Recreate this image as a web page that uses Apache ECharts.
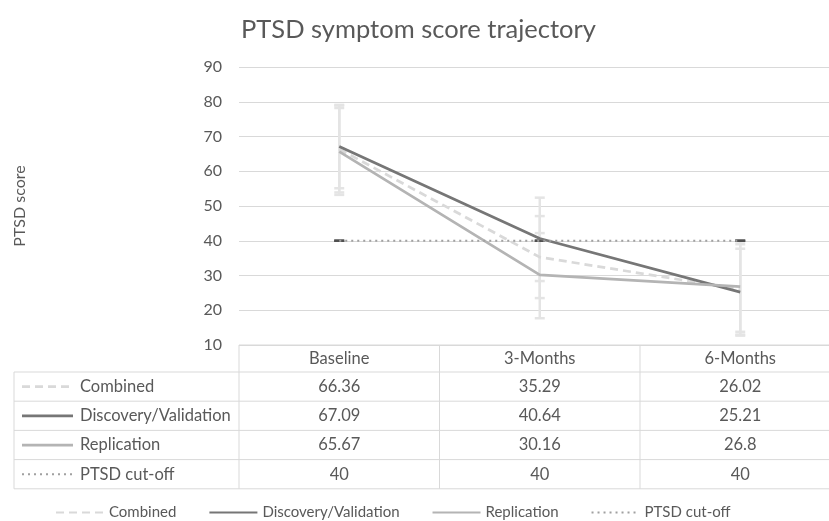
<!DOCTYPE html>
<html><head><meta charset="utf-8">
<script src="https://cdn.jsdelivr.net/npm/echarts@6/dist/echarts.min.js"></script>
<style>html,body{margin:0;padding:0;background:#fff}#c{width:829px;height:521px}</style>
</head><body><div id="c"></div>
<script>
// ---- data ----
const categories = ['Baseline', '3-Months', '6-Months'];
const seriesNames = ['Combined', 'Discovery/Validation', 'Replication', 'PTSD cut-off'];
const combined = [66.36, 35.29, 26.02];
const discovery = [67.09, 40.64, 25.21];
const replication = [65.67, 30.16, 26.8];
const cutoff = [40, 40, 40];
const combinedLow = [53.9, 23.5, 13.0];
const combinedHigh = [78.9, 47.1, 39.0];
const discoveryLow = [55.1, 28.4, 12.7];
const discoveryHigh = [79.1, 52.4, 37.7];
const replicationLow = [53.2, 17.7, 13.8];
const replicationHigh = [78.2, 42.2, 39.8];
const yMin = 10, yMax = 90, yStep = 10;

// ---- layout / styles ----
const FONT = 'Lato';
const TXT = '#595959';
const GRID = '#d9d9d9';
const PLOT_LEFT = 239, BAND = 200.5, W = 829;
const xMaxView = (W - PLOT_LEFT) / BAND - 0.5;   // plot area runs past the right edge
const styles = [
  { color: '#d9d9d9', width: 2.75, type: [8, 5] },
  { color: '#767676', width: 2.75, type: 'solid' },
  { color: '#b4b4b4', width: 2.75, type: 'solid' },
  { color: '#a0a0a0', width: 2, type: [2, 4] }
];
const values = [combined, discovery, replication, cutoff];
const lows = [combinedLow, discoveryLow, replicationLow];
const highs = [combinedHigh, discoveryHigh, replicationHigh];

const chart = echarts.init(document.getElementById('c'));

function errRender(color, capHalf, drawBar) {
  return function (params, api) {
    const x = api.value(0);
    const lo = api.coord([x, api.value(1)]);
    const hi = api.coord([x, api.value(2)]);
    const st = { stroke: color, lineWidth: 2.5 };
    const ch = [];
    if (drawBar) ch.push({ type: 'line', shape: { x1: lo[0], y1: lo[1], x2: hi[0], y2: hi[1] }, style: st });
    ch.push({ type: 'line', shape: { x1: hi[0] - capHalf, y1: hi[1], x2: hi[0] + capHalf, y2: hi[1] }, style: st });
    ch.push({ type: 'line', shape: { x1: lo[0] - capHalf, y1: lo[1], x2: lo[0] + capHalf, y2: lo[1] }, style: st });
    return { type: 'group', children: ch };
  };
}

const series = [];
lows.forEach((lo, k) => {
  series.push({
    type: 'custom', name: 'err' + k, z: 1, silent: true,
    renderItem: errRender('#e4e4e4', 5, true),
    data: categories.map((c, i) => [i, lo[i], highs[k][i]])
  });
});
series.push({
  type: 'custom', name: 'cutcap', z: 1, silent: true,
  renderItem: errRender('#505050', 5, false),
  data: categories.map((c, i) => [i, cutoff[i], cutoff[i]])
});
seriesNames.forEach((n, k) => {
  series.push({
    type: 'line', name: n, data: categories.map((c, i) => [i, values[k][i]]), symbol: 'none', z: 3,
    lineStyle: styles[k], itemStyle: { color: styles[k].color }
  });
});

chart.setOption({
  animation: false,
  title: {
    text: 'PTSD symptom score trajectory', left: 241, top: 17, padding: 0,
    textStyle: { fontFamily: FONT, fontSize: 25.5, fontWeight: 'normal', color: TXT }
  },
  legend: {
    data: seriesNames, top: 505, left: 55, itemWidth: 48, itemHeight: 14, itemGap: 32,
    padding: 0,
    itemStyle: { opacity: 0 },
    textStyle: { fontFamily: FONT, fontSize: 15, color: TXT }
  },
  grid: { left: PLOT_LEFT, top: 67, right: 0, height: 278 },
  xAxis: {
    type: 'value', min: -0.5, max: xMaxView,
    axisLine: { show: false }, axisTick: { show: false }, axisLabel: { show: false }, splitLine: { show: false }
  },
  yAxis: {
    type: 'value', min: yMin, max: yMax, interval: yStep,
    name: 'PTSD score', nameLocation: 'middle', nameGap: 211, nameRotate: 90,
    nameTextStyle: { fontFamily: FONT, fontSize: 16, color: TXT },
    axisLine: { show: false }, axisTick: { show: false },
    axisLabel: { fontFamily: FONT, fontSize: 16, color: TXT, margin: 17 },
    splitLine: { lineStyle: { color: GRID, width: 1 } }
  },
  series: series
});

// ---- data table under the plot ----
const centers = categories.map((c, i) => chart.convertToPixel({ xAxisIndex: 0 }, i));
const band = centers[1] - centers[0];
const tableTop = chart.convertToPixel({ yAxisIndex: 0 }, yMin);
const headH = 27, rowH = 29.2;
const tLeft = 14, c0Right = centers[0] - band / 2, tRight = centers[2] + band / 2;
const g = [];
const ls = { stroke: GRID, lineWidth: 1 };
function hline(x1, x2, y) { g.push({ type: 'line', shape: { x1: x1, y1: y, x2: x2, y2: y }, style: ls, silent: true }); }
function vline(x, y1, y2) { g.push({ type: 'line', shape: { x1: x, y1: y1, x2: x, y2: y2 }, style: ls, silent: true }); }
function txt(x, y, s, align) {
  g.push({ type: 'text', x: x, y: y, silent: true,
    style: { text: s, fill: TXT, font: '16.5px "' + FONT + '"', align: align || 'center', verticalAlign: 'middle' } });
}
const bodyTop = tableTop + headH;
const tBottom = bodyTop + rowH * 4;
hline(c0Right, tRight, tableTop);
for (let r = 0; r <= 4; r++) hline(tLeft, tRight, bodyTop + r * rowH);
vline(tLeft, bodyTop, tBottom);
vline(c0Right, tableTop, tBottom);
categories.forEach((c, i) => {
  vline(centers[i] + band / 2, tableTop, tBottom);
  txt(centers[i], tableTop + headH / 2, c);
});
seriesNames.forEach((n, k) => {
  const yc = bodyTop + rowH * k + rowH / 2;
  const st = styles[k];
  g.push({ type: 'line', silent: true, shape: { x1: 22, y1: yc, x2: 73, y2: yc },
    style: { stroke: st.color, lineWidth: st.width, lineDash: st.type === 'solid' ? null : st.type } });
  txt(80, yc, n, 'left');
  categories.forEach((c, i) => txt(centers[i], yc, String(values[k][i])));
});
chart.setOption({ graphic: { elements: g } });
</script></body></html>
